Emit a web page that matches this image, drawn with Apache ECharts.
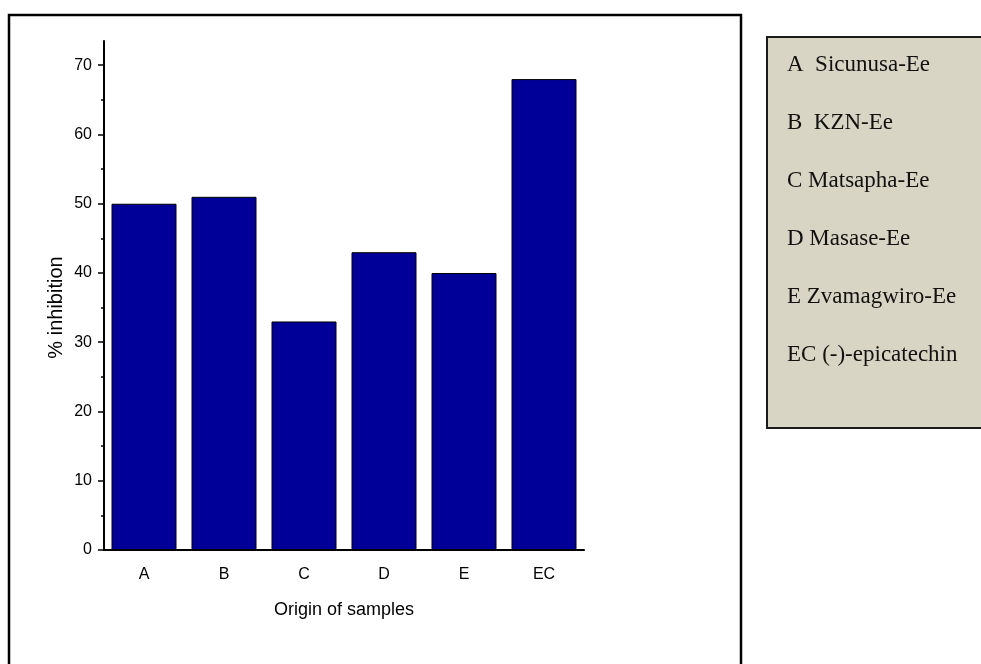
<!DOCTYPE html>
<html>
<head>
<meta charset="utf-8">
<script src="https://cdn.jsdelivr.net/npm/echarts@6/dist/echarts.min.js"></script>
<style>
  html, body { margin: 0; padding: 0; background: #fff; }
  #chart { width: 981px; height: 664px; }
</style>
</head>
<body>
<div id="chart"></div>
<script>
const categories = ['A', 'B', 'C', 'D', 'E', 'EC'];
const inhibition = [50, 51, 33, 43, 40, 68];
const majorTicks = [0, 10, 20, 30, 40, 50, 60, 70];
const minorTicks = [5, 15, 25, 35, 45, 55, 65];
const legendLines = [
  'A  Sicunusa-Ee',
  'B  KZN-Ee',
  'C Matsapha-Ee',
  'D Masase-Ee',
  'E Zvamagwiro-Ee',
  'EC (-)-epicatechin',
];

const sans = 'Liberation Sans, Arial, sans-serif';
const serif = 'Liberation Serif, Times New Roman, serif';

const chart = echarts.init(document.getElementById('chart'));

const legendRows = legendLines.map((t, i) => ({
  type: 'text',
  x: 787,
  y: 65 + i * 58,
  style: {
    text: t,
    font: '23px ' + serif,
    fill: '#111',
    textVerticalAlign: 'middle',
  },
}));

chart.setOption({
  animation: false,
  backgroundColor: '#fff',
  grid: {
    left: 104, right: 397, top: 41, bottom: 114,
    containLabel: false,
    outerBoundsMode: 'none',
  },
  xAxis: [
    {
      type: 'category',
      position: 'bottom',
      data: categories,
      name: 'Origin of samples',
      nameLocation: 'middle',
      nameGap: 51,
      nameTextStyle: { fontFamily: sans, fontSize: 18, color: '#000' },
      axisLine: { lineStyle: { color: '#000', width: 2 } },
      axisTick: { alignWithLabel: true, length: 8, lineStyle: { color: '#000', width: 1.5 } },
      axisLabel: { fontFamily: sans, fontSize: 16, color: '#000', margin: 17 },
    },
    {
      type: 'category',
      position: 'bottom',
      data: categories,
      axisLine: { show: false },
      axisTick: { length: 4, lineStyle: { color: '#000', width: 1.5 } },
      axisLabel: { show: false },
    },
  ],
  yAxis: [
    {
      type: 'value',
      position: 'left',
      min: 0,
      max: 73.5,
      name: '% inhibition',
      nameLocation: 'middle',
      nameGap: 38,
      nameTextStyle: { fontFamily: sans, fontSize: 20, color: '#000', padding: [0, 24, 0, 0] },
      axisLine: { show: true, lineStyle: { color: '#000', width: 2 } },
      axisTick: { show: true, length: 6, customValues: majorTicks, lineStyle: { color: '#000', width: 1.5 } },
      axisLabel: { customValues: majorTicks, fontFamily: sans, fontSize: 16, color: '#000', margin: 12 },
      splitLine: { show: false },
    },
    {
      type: 'value',
      position: 'left',
      min: 0,
      max: 73.5,
      axisLine: { show: false },
      axisTick: { show: true, length: 3, customValues: minorTicks, lineStyle: { color: '#000', width: 1.5 } },
      axisLabel: { show: false },
      splitLine: { show: false },
    },
  ],
  series: [
    {
      type: 'bar',
      data: inhibition,
      barWidth: 65,
      itemStyle: { color: '#000099', borderColor: '#000', borderWidth: 1 },
    },
  ],
  graphic: [
    {
      type: 'rect',
      shape: { x: 9, y: 15, width: 732, height: 700 },
      style: { fill: 'none', stroke: '#000', lineWidth: 2.5 },
    },
    {
      type: 'rect',
      shape: { x: 767, y: 37, width: 240, height: 391 },
      style: { fill: '#d9d5c4', stroke: '#1a1a1a', lineWidth: 2 },
    },
    ...legendRows,
  ],
});
</script>
</body>
</html>
